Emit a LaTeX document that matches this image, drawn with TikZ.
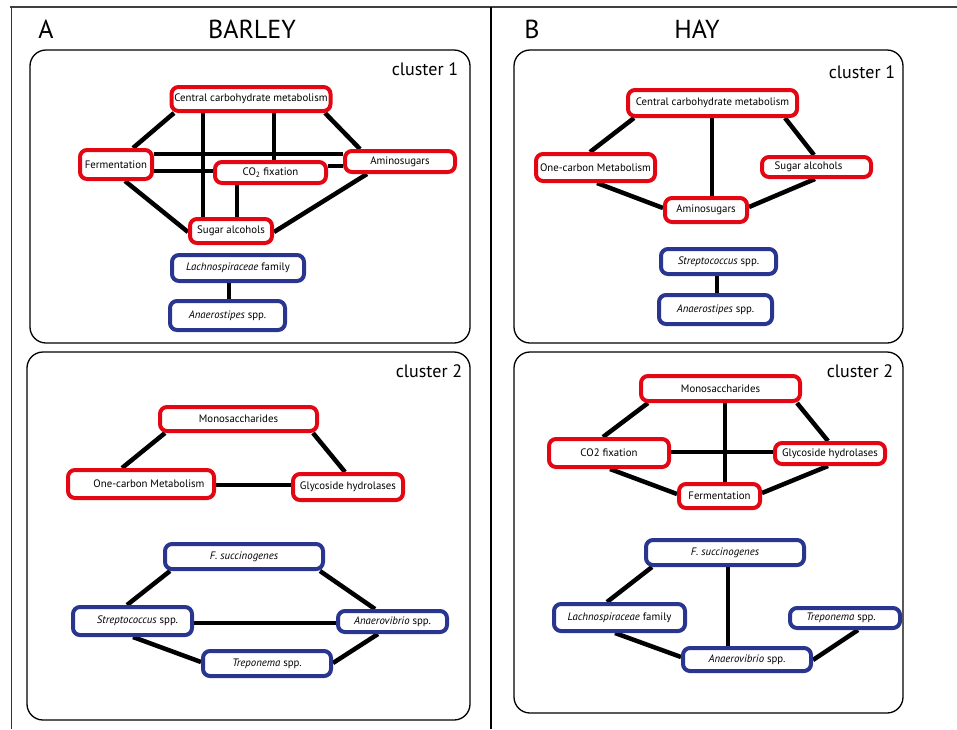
\documentclass[tikz,border=0pt]{standalone}
\usepackage{fontspec}
\setmainfont{PT Sans}
\usetikzlibrary{backgrounds}
\definecolor{nred}{HTML}{E30613}
\definecolor{nblue}{HTML}{2A3590}
\begin{document}
\begin{tikzpicture}[x=1pt,y=-1pt,
  rbox/.style={draw=nred, line width=4pt, rounded corners=7pt, fill=white, inner sep=0pt, font=\fontsize{10.8}{12}\selectfont},
  bbox/.style={rbox, draw=nblue},
  edge/.style={line width=4.5pt, black},
  cluster/.style={draw=black, line width=1.3pt, rounded corners=16pt},
  clabel/.style={font=\fontsize{18}{20}\selectfont, inner sep=0pt},
  head/.style={font=\fontsize{26}{28}\selectfont, inner sep=0pt}]
\useasboundingbox (0,0) rectangle (957,729);

% frame
\draw[line width=1.5pt, black!75] (10,7) coordinate (ftl) -- (957,7) coordinate (ftr);
\draw[line width=1pt, black!80] (11,7) coordinate (fl1) -- (11,729) coordinate (fl2);
\draw[line width=2pt, black] (491,7) coordinate (fm1) -- (491,729) coordinate (fm2);

% headers
\node[head] (hA) at (46,29) {A};
\node[head] (hBarley) at (252,29) {BARLEY};
\node[head] (hB) at (532,29) {B};
\node[head] (hHay) at (697,29) {HAY};

% clusters
\node[cluster, minimum width=440pt, minimum height=293pt] (cA1) at (250,196.5) {};
\node[cluster, minimum width=443pt, minimum height=368pt] (cA2) at (248.5,536) {};
\node[cluster, minimum width=389pt, minimum height=293pt] (cB1) at (708.5,196.5) {};
\node[cluster, minimum width=389pt, minimum height=361pt] (cB2) at (708.5,532.5) {};
\node[clabel] (lA1) at (425,69) {cluster 1};
\node[clabel] (lA2) at (429,371) {cluster 2};
\node[clabel] (lB1) at (862,72) {cluster 1};
\node[clabel] (lB2) at (860,371) {cluster 2};

% ---------- A cluster 1
\node[rbox, minimum width=159pt, minimum height=24pt] (centralA) at (251,99) {Central carbohydrate metabolism};
\node[rbox, minimum width=72pt, minimum height=29pt] (fermA) at (116,164.5) {Fermentation};
\node[rbox, minimum width=111pt, minimum height=21pt] (co2A) at (270.5,172.5) {CO\textsubscript{2} fixation};
\node[rbox, minimum width=110pt, minimum height=21pt] (aminoA) at (400,161.5) {Aminosugars};
\node[rbox, minimum width=82pt, minimum height=24pt] (sugarA) at (231,231) {Sugar alcohols};
\node[bbox, minimum width=132pt, minimum height=26pt] (lachA) at (238,268) {\textit{Lachnospiraceae} family};
\node[bbox, minimum width=115pt, minimum height=29pt] (anaA) at (227.5,315.5) {\textit{Anaerostipes} spp.};

% ---------- A cluster 2
\node[rbox, minimum width=157pt, minimum height=24pt] (monoA) at (238.5,419) {Monosaccharides};
\node[rbox, minimum width=146pt, minimum height=28pt] (onecA) at (141,484) {\hspace*{16pt}One-carbon Metabolism};
\node[rbox, minimum width=110pt, minimum height=26pt] (glyA) at (348,487) {Glycoside hydrolases};
\node[bbox, minimum width=158pt, minimum height=25pt] (fsA) at (244,556.5) {\textit{F. succinogenes}};
\node[bbox, minimum width=119pt, minimum height=28pt] (strepA) at (132.5,621) {\hspace*{10pt}\textit{Streptococcus} spp.};
\node[bbox, minimum width=109pt, minimum height=21pt] (anvA) at (392.5,621.5) {\textit{Anaerovibrio} spp.};
\node[bbox, minimum width=128pt, minimum height=25pt] (trepA) at (267,663.5) {\textit{Treponema} spp.};

% ---------- B cluster 1
\node[rbox, minimum width=169pt, minimum height=26pt] (centralB) at (712.5,103) {Central carbohydrate metabolism};
\node[rbox, minimum width=119pt, minimum height=27pt] (onecB) at (595.5,167.5) {One-carbon Metabolism};
\node[rbox, minimum width=109pt, minimum height=20pt] (sugarB) at (816.5,167) {Sugar alcohols\hspace*{16pt}};
\node[rbox, minimum width=82pt, minimum height=24pt] (aminoB) at (706,210) {Aminosugars};
\node[bbox, minimum width=115pt, minimum height=25pt] (strepB) at (718.5,261.5) {\textit{Streptococcus} spp.};
\node[bbox, minimum width=113pt, minimum height=29pt] (anaB) at (715.5,309.5) {\textit{Anaerostipes} spp.};

% ---------- B cluster 2
\node[rbox, minimum width=159pt, minimum height=25pt] (monoB) at (720.5,388.5) {Monosaccharides};
\node[rbox, minimum width=120pt, minimum height=28pt] (co2B) at (609,453) {CO2 fixation};
\node[rbox, minimum width=110pt, minimum height=21pt] (glyB) at (830,453.5) {Glycoside hydrolases};
\node[rbox, minimum width=81pt, minimum height=24pt] (fermB) at (719.5,496) {Fermentation};
\node[bbox, minimum width=158pt, minimum height=25pt] (fsB) at (725,552.5) {\textit{F. succinogenes}};
\node[bbox, minimum width=131pt, minimum height=27pt] (lachB) at (619.5,617.5) {\textit{Lachnospiraceae} family};
\node[bbox, minimum width=110pt, minimum height=20pt] (trepB) at (845,618) {\textit{Treponema} spp.\hspace*{8pt}};
\node[bbox, minimum width=128pt, minimum height=23pt] (anvB) at (747,659.5) {\textit{Anaerovibrio} spp.};

\begin{pgfonlayer}{background}
% A cluster 1
\draw[edge] (centralA.south -| 174,0) -- (fermA.north -| 133,0);
\draw[edge] (centralA.south -| 203,0) -- (sugarA.north -| 203,0);
\draw[edge] (centralA.south -| 274,0) -- (co2A.north -| 274,0);
\draw[edge] (centralA.south -| 325,0) -- (aminoA.north -| 360,0);
\draw[edge] (fermA.east |- 0,154) -- (aminoA.west |- 0,154);
\draw[edge] (fermA.east |- 0,171) -- (co2A.west |- 0,171);
\draw[edge] (co2A.east |- 0,166) -- (aminoA.west |- 0,166);
\draw[edge] (fermA.south -| 125,0) -- (sugarA.west |- 0,232);
\draw[edge] (co2A.south -| 237,0) -- (sugarA.north -| 237,0);
\draw[edge] (aminoA.south -| 367,0) -- (sugarA.east |- 0,232);
\draw[edge] (lachA.south -| 229,0) -- (anaA.north -| 229,0);
% A cluster 2
\draw[edge] (monoA.south -| 165,0) -- (onecA.north -| 122,0);
\draw[edge] (monoA.south -| 313,0) -- (glyA.north -| 345,0);
\draw[edge] (onecA.east |- 0,485) -- (glyA.west |- 0,485);
\draw[edge] (fsA.south -| 170,0) -- (strepA.north -| 127,0);
\draw[edge] (fsA.south -| 320,0) -- (anvA.north -| 375,0);
\draw[edge] (strepA.east |- 0,623) -- (anvA.west |- 0,623);
\draw[edge] (strepA.south -| 133,0) -- (trepA.west |- 0,662);
\draw[edge] (anvA.south -| 378,0) -- (trepA.east |- 0,663);
% B cluster 1
\draw[edge] (centralB.south -| 634,0) -- (onecB.north -| 590,0);
\draw[edge] (centralB.south -| 712,0) -- (aminoB.north -| 712,0);
\draw[edge] (centralB.south -| 785,0) -- (sugarB.north -| 814,0);
\draw[edge] (onecB.south -| 597,0) -- (aminoB.west |- 0,208);
\draw[edge] (sugarB.south -| 815,0) -- (aminoB.east |- 0,207);
\draw[edge] (strepB.south -| 717,0) -- (anaB.north -| 717,0);
% B cluster 2
\draw[edge] (monoB.south -| 648,0) -- (co2B.north -| 603,0);
\draw[edge] (monoB.south -| 725,0) -- (fermB.north -| 725,0);
\draw[edge] (monoB.south -| 797,0) -- (glyB.north -| 828,0);
\draw[edge] (co2B.east |- 0,452) -- (glyB.west |- 0,452);
\draw[edge] (co2B.south -| 610,0) -- (fermB.west |- 0,494);
\draw[edge] (glyB.south -| 828,0) -- (fermB.east |- 0,493);
\draw[edge] (fsB.south -| 652,0) -- (lachB.north -| 607,0);
\draw[edge] (fsB.south -| 728,0) -- (anvB.north -| 728,0);
\draw[edge] (lachB.south -| 615,0) -- (anvB.west |- 0,657);
\draw[edge] (trepB.south -| 858,0) -- (anvB.east |- 0,660);
\end{pgfonlayer}
\end{tikzpicture}
\end{document}
